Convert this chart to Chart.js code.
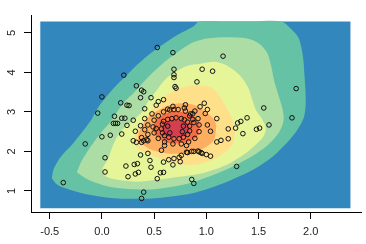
<!DOCTYPE html>
<html>
<head>
<meta charset="utf-8">
<script src="https://cdn.jsdelivr.net/npm/chart.js@4.4.0/dist/chart.umd.min.js"></script>
<style>
html, body { margin: 0; padding: 0; background: #fff; }
#plot { display: block; }
</style>
</head>
<body>
<canvas id="plot" width="366" height="244"></canvas>
<script>
// observed points
var ptX = [0.53,0.68,1.16,0.21,0.69,0.96,1.06,0.69,0.69,0.91,0.33,0.70,0.71,0.38,0.40,0.00,0.37,0.47,1.86,0.18,
  0.24,0.26,0.41,-0.04,0.63,0.68,0.69,0.80,0.79,0.98,0.94,0.89,0.85,0.99,1.55,1.82,1.39,1.33,1.30,1.60,
  1.51,1.48,1.21,1.35,1.21,1.14,1.10,0.12,0.19,0.22,0.30,0.11,0.13,0.15,0.24,0.19,0.08,0.00,-0.16,0.03,
  0.03,-0.37,0.37,0.41,0.32,0.44,0.38,0.30,0.40,0.33,0.23,0.31,0.34,0.46,0.47,0.32,0.35,0.25,0.56,0.59,
  0.53,0.59,0.64,0.69,0.74,0.76,0.81,0.86,0.88,0.92,0.93,0.95,0.96,1.00,1.04,0.82,0.68,0.75,0.86,0.88,
  1.29,0.40,0.38,0.84,0.87,0.88,
  0.57,0.58,0.59,0.63,0.67,0.71,0.76,0.79,0.82,0.84,0.84,0.82,0.78,0.74,0.69,0.64,0.60,0.58,
  0.63,0.78,0.65,0.77,
  0.49,0.50,0.54,0.59,0.65,0.73,0.80,0.87,0.92,0.93,0.93,0.89,0.83,0.76,0.68,0.60,0.54,0.50,
  0.54,0.59,0.52,1.01,1.10,1.01,1.04,1.28,0.48,0.41,0.44,0.44,0.38,0.60,0.81,0.57,0.44,0.37,0.52,0.43];
var ptY = [4.63,4.50,4.41,3.93,4.08,4.08,4.03,3.94,3.87,3.76,3.66,3.64,3.60,3.55,3.51,3.38,3.36,3.36,3.59,3.23,
  3.17,3.16,3.08,2.97,3.07,3.14,3.06,3.18,3.10,3.22,3.13,3.02,2.95,2.96,3.10,2.85,2.85,2.76,2.72,2.67,
  2.59,2.56,2.57,2.45,2.32,2.28,2.24,2.89,2.84,2.84,2.79,2.71,2.71,2.71,2.66,2.44,2.41,2.37,2.19,1.84,
  1.48,1.21,2.65,2.55,2.51,2.43,2.35,2.27,2.27,2.23,1.63,1.67,1.69,1.77,1.60,1.43,1.47,1.36,1.46,1.47,
  1.31,1.73,1.79,1.82,1.85,1.90,1.98,2.00,2.00,2.01,1.99,1.97,1.95,1.92,1.88,1.97,1.66,1.74,1.29,1.19,
  1.62,0.97,0.81,2.90,2.81,2.73,
  2.57,2.69,2.76,2.81,2.83,2.85,2.83,2.80,2.74,2.64,2.52,2.43,2.36,2.32,2.32,2.36,2.40,2.47,
  2.64,2.64,2.47,2.50,
  2.62,2.79,2.90,3.00,3.05,3.06,3.02,2.95,2.83,2.67,2.50,2.33,2.24,2.19,2.19,2.24,2.33,2.47,
  3.26,3.31,3.17,3.06,2.83,2.67,2.51,2.59,2.95,2.83,2.67,2.27,2.23,2.15,2.15,2.03,1.95,1.91,2.58,2.30];

// density bands, outline of each level (outer to inner)
var gridX = [-0.59, 2.38, 2.38, -0.59];
var gridY = [0.56, 0.56, 5.29, 5.29];

var lev1X = [-0.48,-0.46,-0.39,-0.28,-0.18,-0.10,-0.04,0.05,0.13,0.23,0.32,0.44,0.58,0.73,0.88,0.93,1.20,1.45,1.72,1.80,
  1.88,1.91,1.93,1.94,1.95,1.95,1.93,1.86,1.76,1.64,1.45,1.26,1.08,0.88,0.57,0.31,0.06,-0.16,-0.32,-0.43];
var lev1Y = [1.33,1.57,1.88,2.19,2.52,2.81,3.10,3.41,3.65,3.91,4.15,4.43,4.70,4.96,5.17,5.29,5.29,5.29,5.29,5.13,
  4.89,4.63,4.29,3.91,3.50,3.14,2.83,2.50,2.19,1.88,1.54,1.30,1.11,0.95,0.83,0.80,0.83,0.92,1.04,1.16];

var lev2X = [-0.24,-0.19,-0.09,0.00,0.07,0.14,0.21,0.31,0.41,0.50,0.62,0.76,0.88,1.01,1.20,1.39,1.50,1.58,1.62,1.65,
  1.69,1.73,1.74,1.70,1.60,1.48,1.32,1.13,0.94,0.82,0.69,0.50,0.28,0.06,-0.13];
var lev2Y = [1.47,1.78,2.19,2.50,2.71,2.98,3.24,3.50,3.79,4.03,4.31,4.58,4.77,4.86,4.89,4.86,4.74,4.51,4.17,3.79,
  3.43,3.07,2.79,2.50,2.19,1.95,1.71,1.47,1.28,1.18,1.11,1.04,1.04,1.11,1.28];

var lev3X = [0.43,0.40,0.33,0.24,0.16,0.10,0.06,0.01,0.01,0.05,0.15,0.34,0.53,0.72,0.92,1.08,1.23,1.36,1.46,1.54,
  1.57,1.54,1.48,1.44,1.40,1.32,1.20,1.08,0.94,0.82,0.76,0.62,0.53];
var lev3Y = [3.22,3.05,2.86,2.67,2.43,2.12,1.81,1.59,1.45,1.35,1.28,1.23,1.28,1.35,1.42,1.54,1.71,1.92,2.14,2.35,
  2.57,2.79,3.02,3.31,3.62,3.93,4.17,4.27,4.22,4.17,4.10,3.86,3.57];

var lev4X = [0.41,0.44,0.51,0.59,0.70,0.82,0.94,1.06,1.13,1.19,1.24,1.27,1.27,1.24,1.16,1.03,0.88,0.71,0.57,0.43,0.34,0.31,0.33,0.36];
var lev4Y = [2.79,2.95,3.14,3.36,3.55,3.65,3.67,3.60,3.38,3.12,2.86,2.62,2.38,2.14,1.95,1.76,1.66,1.69,1.81,1.95,2.09,2.28,2.52,2.67];

var lev5X = [0.35,0.40,0.46,0.56,0.65,0.77,0.89,0.97,1.04,1.09,1.09,1.07,1.00,0.90,0.77,0.63,0.50,0.41,0.35];
var lev5Y = [2.47,2.71,2.90,3.07,3.17,3.22,3.17,3.05,2.90,2.71,2.50,2.28,2.12,2.00,1.95,1.95,2.02,2.14,2.28];

var lev6X = [0.49,0.51,0.57,0.64,0.73,0.81,0.88,0.93,0.93,0.91,0.84,0.75,0.64,0.56,0.51];
var lev6Y = [2.57,2.76,2.90,2.98,3.00,2.98,2.88,2.74,2.55,2.38,2.26,2.21,2.21,2.31,2.43];

var lev7X = [0.57,0.59,0.63,0.70,0.77,0.82,0.84,0.82,0.77,0.70,0.63,0.59];
var lev7Y = [2.57,2.69,2.76,2.79,2.76,2.69,2.57,2.45,2.38,2.36,2.38,2.45];

var xTicks = [-0.5, 0.0, 0.5, 1.0, 1.5, 2.0];
var yTicks = [1, 2, 3, 4, 5];

var spectral = ['#3288BD', '#66C2A5', '#ABDDA4', '#E6F598', '#FEE08B', '#FDAE61', '#F46D43', '#D53E4F'];

function outline(xs, ys) {
  var pts = xs.map(function (x, i) { return { x: x, y: ys[i] }; });
  pts.push(pts[0]);
  return pts;
}

function band(xs, ys, col, tension) {
  return {
    data: outline(xs, ys),
    showLine: true,
    fill: 'shape',
    backgroundColor: col,
    borderColor: col,
    borderWidth: 0,
    pointRadius: 0,
    tension: tension
  };
}

var datasets = [
  {
    data: ptX.map(function (x, i) { return { x: x, y: ptY[i] }; }),
    showLine: false,
    pointStyle: 'circle',
    pointRadius: 2.3,
    pointBackgroundColor: 'rgba(0,0,0,0)',
    pointBorderColor: '#111',
    pointBorderWidth: 1
  },
  band(lev7X, lev7Y, spectral[7], 0.4),
  band(lev6X, lev6Y, spectral[6], 0.4),
  band(lev5X, lev5Y, spectral[5], 0.4),
  band(lev4X, lev4Y, spectral[4], 0.4),
  band(lev3X, lev3Y, spectral[3], 0.3),
  band(lev2X, lev2Y, spectral[2], 0.3),
  band(lev1X, lev1Y, spectral[1], 0.3),
  band(gridX, gridY, spectral[0], 0)
];

var tickFont = { family: '"Liberation Sans", Arial, sans-serif', size: 11 };

var plot = new Chart(document.getElementById('plot').getContext('2d'), {
  type: 'scatter',
  data: { datasets: datasets },
  options: {
    responsive: false,
    animation: false,
    events: [],
    layout: { padding: { top: 4, right: 0, bottom: 0, left: 0 } },
    plugins: { legend: { display: false }, tooltip: { enabled: false } },
    scales: {
      x: {
        type: 'linear',
        min: -0.679,
        max: 2.481,
        afterBuildTicks: function (s) { s.ticks = xTicks.map(function (v) { return { value: v }; }); },
        afterFit: function (s) { s.height = 32; },
        grid: { drawOnChartArea: false, tickLength: 7, color: '#000' },
        border: { display: true, color: '#000', width: 1 },
        ticks: {
          padding: 6, color: '#222', font: tickFont, maxRotation: 0, autoSkip: false,
          callback: function (v) { return Number(v).toFixed(1); }
        }
      },
      y: {
        type: 'linear',
        min: 0.467,
        max: 5.437,
        afterBuildTicks: function (s) { s.ticks = yTicks.map(function (v) { return { value: v }; }); },
        afterFit: function (s) { s.width = 31; },
        grid: { drawOnChartArea: false, tickLength: 7, color: '#000' },
        border: { display: true, color: '#000', width: 1 },
        ticks: {
          padding: 9, color: '#222', font: tickFont, minRotation: 90, maxRotation: 90,
          crossAlign: 'center', autoSkip: false,
          callback: function (v) { return String(v); }
        }
      }
    }
  }
});
</script>
</body>
</html>
